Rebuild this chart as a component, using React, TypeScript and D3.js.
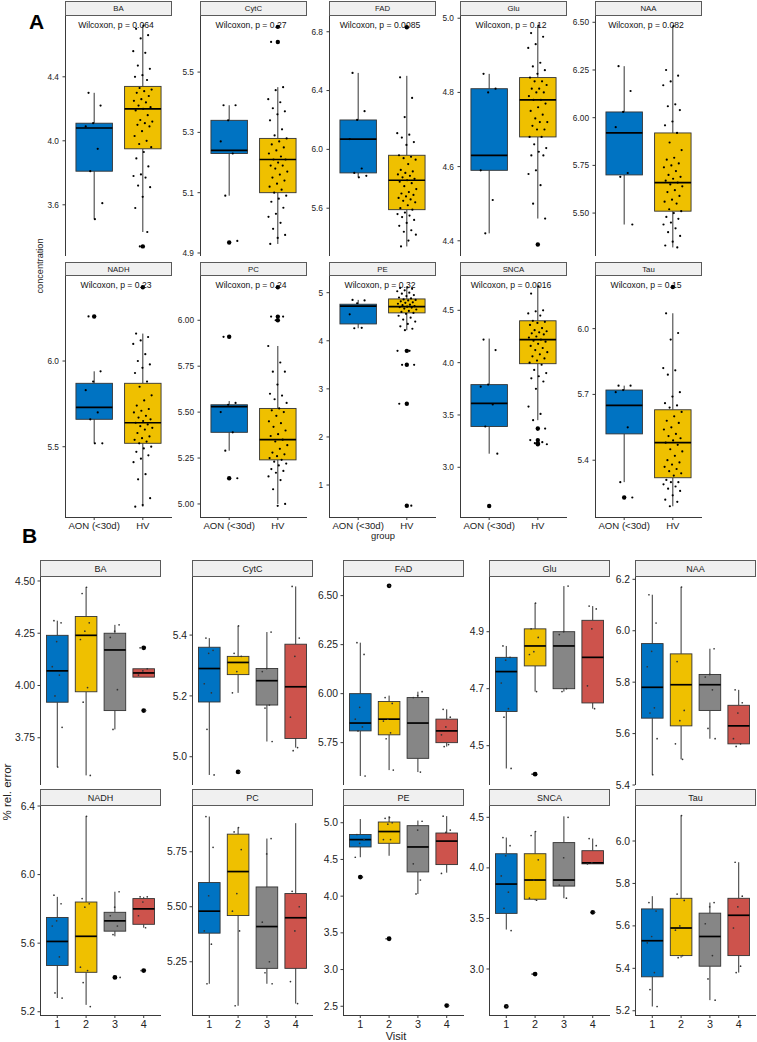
import React from 'react';
import * as d3 from 'd3';

const FONT = "'Liberation Sans', Arial, Helvetica, sans-serif";

// categories
const markers = ['BA', 'CytC', 'FAD', 'Glu', 'NAA', 'NADH', 'PC', 'PE', 'SNCA', 'Tau'];
const groups = ['AON (<30d)', 'HV'];
const visits = ['1', '2', '3', '4'];
const pLabels = ['0.064', '0.27', '0.0085', '0.12', '0.082', '0.23', '0.24', '0.32', '0.0016', '0.15'];
const groupColors = ['#0073C2', '#EFC000'];
const visitColors = ['#0073C2', '#EFC000', '#868686', '#CD534C'];

// ---------- panel A: box stats are [lower whisker, q1, median, q3, upper whisker]
const A_BA_box = [[3.51, 3.81, 4.08, 4.11, 4.30], [3.43, 3.95, 4.20, 4.34, 4.72]];
const A_BA_out = [[], [3.34]];
const A_BA_pts = [
  [4.30, 4.22, 4.11, 4.09, 3.95, 3.81, 3.61, 3.51],
  [4.72, 4.70, 4.66, 4.64, 4.56, 4.55, 4.47, 4.45, 4.41, 4.40, 4.38, 4.33, 4.32, 4.31, 4.30, 4.28, 4.26, 4.25, 4.24, 4.22, 4.21, 4.20, 4.19, 4.16, 4.13, 4.12, 4.11, 4.10, 4.09, 4.06, 4.03, 4.00, 3.98, 3.96, 3.93, 3.89, 3.84, 3.79, 3.78, 3.77, 3.72, 3.71, 3.65, 3.58, 3.43, 3.34],
];
const A_BA_dom = [3.28, 4.78];
const A_BA_ticks = ['3.6', '4.0', '4.4'];

const A_CytC_box = [[5.09, 5.23, 5.24, 5.34, 5.39], [4.93, 5.10, 5.21, 5.28, 5.45]];
const A_CytC_out = [[4.935], [5.60, 5.65]];
const A_CytC_pts = [
  [5.39, 5.39, 5.34, 5.27, 5.23, 5.09, 4.94],
  [5.65, 5.60, 5.45, 5.44, 5.41, 5.40, 5.38, 5.37, 5.36, 5.34, 5.31, 5.29, 5.28, 5.27, 5.26, 5.25, 5.24, 5.23, 5.22, 5.21, 5.21, 5.20, 5.19, 5.19, 5.18, 5.17, 5.16, 5.15, 5.14, 5.13, 5.12, 5.11, 5.10, 5.09, 5.08, 5.07, 5.05, 5.03, 5.02, 5.00, 4.98, 4.96, 4.95, 4.93],
];
const A_CytC_dom = [4.89, 5.686];
const A_CytC_ticks = ['4.9', '5.1', '5.3', '5.5'];

const A_FAD_box = [[5.81, 5.84, 6.07, 6.20, 6.52], [5.34, 5.59, 5.79, 5.96, 6.50]];
const A_FAD_out = [[], [6.83]];
const A_FAD_pts = [
  [6.52, 6.26, 6.20, 6.07, 5.87, 5.84, 5.82, 5.81],
  [6.83, 6.49, 6.35, 6.22, 6.11, 6.10, 6.08, 6.05, 6.03, 5.96, 5.95, 5.94, 5.93, 5.90, 5.86, 5.85, 5.84, 5.83, 5.82, 5.81, 5.80, 5.79, 5.78, 5.77, 5.75, 5.73, 5.71, 5.70, 5.69, 5.68, 5.67, 5.66, 5.65, 5.64, 5.62, 5.60, 5.59, 5.57, 5.56, 5.55, 5.54, 5.52, 5.50, 5.48, 5.45, 5.44, 5.42, 5.38, 5.34],
];
const A_FAD_dom = [5.275, 6.907];
const A_FAD_ticks = ['5.6', '6.0', '6.4', '6.8'];

const A_Glu_box = [[4.42, 4.59, 4.63, 4.81, 4.85], [4.46, 4.68, 4.78, 4.84, 4.98]];
const A_Glu_out = [[], [4.39]];
const A_Glu_pts = [
  [4.85, 4.81, 4.80, 4.59, 4.51, 4.42],
  [4.98, 4.96, 4.95, 4.93, 4.92, 4.88, 4.87, 4.86, 4.85, 4.84, 4.83, 4.83, 4.82, 4.81, 4.81, 4.80, 4.80, 4.79, 4.78, 4.78, 4.77, 4.76, 4.75, 4.74, 4.73, 4.72, 4.72, 4.71, 4.70, 4.70, 4.68, 4.68, 4.66, 4.65, 4.64, 4.63, 4.63, 4.59, 4.58, 4.55, 4.50, 4.46, 4.39],
];
const A_Glu_dom = [4.359, 5.006];
const A_Glu_ticks = ['4.4', '4.6', '4.8', '5.0'];

const A_NAA_box = [[5.44, 5.70, 5.92, 6.03, 6.27], [5.32, 5.51, 5.66, 5.92, 6.48]];
const A_NAA_out = [[], []];
const A_NAA_pts = [
  [6.27, 6.14, 6.03, 5.95, 5.71, 5.69, 5.44],
  [6.48, 6.25, 6.22, 6.19, 6.17, 6.07, 6.06, 6.04, 5.98, 5.96, 5.92, 5.87, 5.83, 5.79, 5.78, 5.76, 5.75, 5.74, 5.72, 5.70, 5.69, 5.68, 5.67, 5.66, 5.65, 5.64, 5.62, 5.61, 5.59, 5.57, 5.56, 5.55, 5.52, 5.51, 5.50, 5.48, 5.47, 5.45, 5.44, 5.42, 5.40, 5.38, 5.35, 5.33, 5.32],
];
const A_NAA_dom = [5.275, 6.533];
const A_NAA_ticks = ['5.50', '5.75', '6.00', '6.25', '6.50'];

const A_NADH_box = [[5.52, 5.66, 5.73, 5.87, 5.94], [5.15, 5.52, 5.64, 5.87, 6.16]];
const A_NADH_out = [[6.26], [6.43]];
const A_NADH_pts = [
  [6.26, 5.94, 5.88, 5.83, 5.70, 5.66, 5.52, 5.52],
  [6.43, 6.16, 6.14, 6.12, 6.10, 6.04, 6.00, 5.98, 5.96, 5.93, 5.88, 5.85, 5.80, 5.77, 5.74, 5.72, 5.71, 5.70, 5.68, 5.67, 5.66, 5.65, 5.64, 5.63, 5.62, 5.61, 5.60, 5.58, 5.56, 5.55, 5.54, 5.53, 5.52, 5.50, 5.49, 5.47, 5.45, 5.43, 5.41, 5.34, 5.31, 5.20, 5.16, 5.15],
];
const A_NADH_dom = [5.09, 6.496];
const A_NADH_ticks = ['5.5', '6.0'];

const A_PC_box = [[5.29, 5.39, 5.53, 5.54, 5.56], [5.00, 5.24, 5.35, 5.52, 5.86]];
const A_PC_out = [[5.91, 5.14], [6.18, 6.02, 6.00]];
const A_PC_pts = [
  [5.91, 5.55, 5.54, 5.50, 5.39, 5.29, 5.14],
  [6.18, 6.02, 6.02, 6.00, 5.86, 5.77, 5.72, 5.72, 5.65, 5.60, 5.59, 5.57, 5.55, 5.52, 5.51, 5.50, 5.48, 5.45, 5.44, 5.42, 5.40, 5.38, 5.37, 5.35, 5.34, 5.32, 5.30, 5.28, 5.27, 5.26, 5.25, 5.24, 5.23, 5.22, 5.21, 5.19, 5.18, 5.17, 5.15, 5.13, 5.08, 5.00, 4.99],
];
const A_PC_dom = [4.929, 6.241];
const A_PC_ticks = ['5.00', '5.25', '5.50', '5.75', '6.00'];

const A_PE_box = [[4.26, 4.35, 4.72, 4.76, 4.85], [4.22, 4.58, 4.71, 4.87, 5.11]];
const A_PE_out = [[], [3.79, 3.50, 2.69, 0.57]];
const A_PE_pts = [
  [4.85, 4.84, 4.78, 4.55, 4.27, 4.26],
  [5.11, 5.10, 5.08, 5.05, 5.03, 5.00, 4.98, 4.95, 4.93, 4.90, 4.88, 4.86, 4.85, 4.84, 4.82, 4.80, 4.79, 4.77, 4.75, 4.74, 4.72, 4.71, 4.70, 4.69, 4.67, 4.65, 4.62, 4.60, 4.58, 4.56, 4.52, 4.48, 4.44, 4.40, 4.35, 4.30, 4.25, 4.22, 3.79, 3.79, 3.50, 3.50, 2.69, 2.69, 0.57],
];
const A_PE_dom = [0.335, 5.347];
const A_PE_ticks = ['1', '2', '3', '4', '5'];

const A_SNCA_box = [[3.13, 3.39, 3.61, 3.79, 4.23], [3.45, 3.99, 4.22, 4.40, 4.73]];
const A_SNCA_out = [[2.63], [3.37, 3.26, 3.23, 3.22]];
const A_SNCA_pts = [
  [4.22, 4.12, 3.79, 3.77, 3.60, 3.39, 3.13, 2.63],
  [4.73, 4.66, 4.50, 4.49, 4.47, 4.45, 4.40, 4.39, 4.38, 4.36, 4.33, 4.31, 4.30, 4.29, 4.28, 4.27, 4.25, 4.24, 4.22, 4.21, 4.20, 4.18, 4.16, 4.14, 4.12, 4.10, 4.08, 4.06, 4.04, 4.02, 4.00, 3.98, 3.93, 3.90, 3.87, 3.85, 3.82, 3.75, 3.58, 3.51, 3.45, 3.37, 3.36, 3.26, 3.24, 3.23, 3.22],
];
const A_SNCA_dom = [2.525, 4.828];
const A_SNCA_ticks = ['3.0', '3.5', '4.0', '4.5'];

const A_Tau_box = [[5.30, 5.52, 5.65, 5.72, 5.74], [5.19, 5.32, 5.48, 5.63, 6.07]];
const A_Tau_out = [[5.23], [6.19]];
const A_Tau_pts = [
  [5.74, 5.74, 5.72, 5.71, 5.55, 5.30, 5.23],
  [6.19, 6.07, 5.98, 5.95, 5.82, 5.81, 5.79, 5.71, 5.69, 5.66, 5.65, 5.64, 5.62, 5.60, 5.58, 5.57, 5.55, 5.54, 5.52, 5.51, 5.50, 5.49, 5.48, 5.47, 5.45, 5.44, 5.42, 5.40, 5.39, 5.38, 5.37, 5.36, 5.35, 5.34, 5.33, 5.31, 5.30, 5.30, 5.29, 5.28, 5.27, 5.26, 5.24, 5.22, 5.21, 5.19],
];
const A_Tau_dom = [5.141, 6.24];
const A_Tau_ticks = ['5.4', '5.7', '6.0'];

// ---------- panel B (visits 1-4)
const B_BA_box = [[3.61, 3.92, 4.07, 4.24, 4.31], [3.57, 3.97, 4.24, 4.33, 4.47], [3.79, 3.88, 4.17, 4.25, 4.29], [4.04, 4.04, 4.06, 4.08, 4.08]];
const B_BA_out = [[], [], [], [4.18, 3.88]];
const B_BA_pts = [[4.31, 4.30, 4.21, 4.09, 4.05, 3.95, 3.80, 3.61], [4.47, 4.44, 4.30, 4.26, 4.22, 3.99, 3.92, 3.57], [4.29, 4.26, 4.23, 3.98, 3.79], [4.18, 4.08, 4.07, 4.05, 3.88]];
const B_BA_dom = [3.524, 4.519];
const B_BA_ticks = ['3.75', '4.00', '4.25', '4.50'];

const B_CytC_box = [[4.94, 5.18, 5.29, 5.36, 5.39], [5.21, 5.27, 5.31, 5.33, 5.43], [5.05, 5.17, 5.25, 5.29, 5.41], [5.03, 5.06, 5.23, 5.37, 5.56]];
const B_CytC_out = [[], [4.95], [], []];
const B_CytC_pts = [[5.39, 5.35, 5.34, 5.24, 5.21, 5.09, 4.94], [5.43, 5.34, 5.33, 5.28, 5.21, 4.95], [5.41, 5.29, 5.28, 5.17, 5.16, 5.05], [5.56, 5.39, 5.33, 5.13, 5.03, 5.02]];
const B_CytC_dom = [4.907, 5.591];
const B_CytC_ticks = ['5.0', '5.2', '5.4'];

const B_FAD_box = [[5.58, 5.81, 5.85, 6.00, 6.26], [5.61, 5.79, 5.87, 5.96, 5.99], [5.60, 5.67, 5.85, 5.98, 6.01], [5.73, 5.75, 5.81, 5.87, 5.92]];
const B_FAD_out = [[], [6.55], [], []];
const B_FAD_pts = [[6.26, 6.20, 5.93, 5.87, 5.83, 5.81, 5.58], [6.55, 5.98, 5.95, 5.87, 5.86, 5.80, 5.77, 5.61], [6.01, 5.99, 5.98, 5.60], [5.92, 5.88, 5.83, 5.79, 5.74, 5.73]];
const B_FAD_dom = [5.534, 6.595];
const B_FAD_ticks = ['5.75', '6.00', '6.25', '6.50'];

const B_Glu_box = [[4.42, 4.62, 4.76, 4.81, 4.85], [4.69, 4.78, 4.85, 4.91, 5.00], [4.69, 4.70, 4.85, 4.90, 5.06], [4.63, 4.65, 4.81, 4.94, 4.99]];
const B_Glu_out = [[], [4.40], [], []];
const B_Glu_pts = [[4.85, 4.81, 4.80, 4.72, 4.63, 4.60, 4.42], [5.00, 4.91, 4.88, 4.83, 4.82, 4.69, 4.40], [5.06, 4.90, 4.89, 4.70, 4.69], [4.99, 4.98, 4.91, 4.71, 4.63]];
const B_Glu_dom = [4.362, 5.092];
const B_Glu_ticks = ['4.5', '4.7', '4.9'];

const B_NAA_box = [[5.44, 5.66, 5.78, 5.95, 6.14], [5.50, 5.63, 5.79, 5.91, 6.17], [5.58, 5.69, 5.79, 5.83, 5.93], [5.56, 5.56, 5.63, 5.71, 5.77]];
const B_NAA_out = [[], [], [], []];
const B_NAA_pts = [[6.14, 6.03, 5.92, 5.86, 5.70, 5.68, 5.58, 5.44], [6.17, 5.88, 5.69, 5.65, 5.56, 5.50], [5.93, 5.83, 5.82, 5.77, 5.62, 5.58], [5.77, 5.72, 5.68, 5.58, 5.56, 5.55]];
const B_NAA_dom = [5.40, 6.209];
const B_NAA_ticks = ['5.4', '5.6', '5.8', '6.0', '6.2'];

const B_NADH_box = [[5.28, 5.47, 5.61, 5.75, 5.87], [5.24, 5.43, 5.64, 5.84, 6.34], [5.64, 5.67, 5.73, 5.78, 5.90], [5.69, 5.71, 5.80, 5.86, 5.87]];
const B_NADH_out = [[], [], [5.40], [5.44]];
const B_NADH_pts = [[5.88, 5.83, 5.73, 5.70, 5.52, 5.31, 5.28], [6.34, 5.86, 5.83, 5.81, 5.46, 5.44, 5.37, 5.23], [5.90, 5.81, 5.76, 5.70, 5.65, 5.40], [5.87, 5.87, 5.84, 5.76, 5.69, 5.44]];
const B_NADH_dom = [5.181, 6.40];
const B_NADH_ticks = ['5.2', '5.6', '6.0', '6.4'];

const B_PC_box = [[5.15, 5.38, 5.48, 5.61, 5.91], [5.05, 5.46, 5.66, 5.83, 5.86], [5.15, 5.22, 5.41, 5.59, 5.81], [5.06, 5.22, 5.45, 5.56, 5.88]];
const B_PC_out = [[], [], [], []];
const B_PC_pts = [[5.91, 5.77, 5.55, 5.39, 5.33, 5.15], [5.86, 5.84, 5.76, 5.56, 5.48, 5.39, 5.05], [5.81, 5.74, 5.43, 5.25, 5.20, 5.15], [5.57, 5.50, 5.39, 5.16, 5.06]];
const B_PC_dom = [5.008, 5.958];
const B_PC_ticks = ['5.25', '5.50', '5.75'];

const B_PE_box = [[4.53, 4.67, 4.77, 4.84, 5.05], [4.55, 4.72, 4.88, 5.01, 5.09], [4.03, 4.33, 4.67, 4.96, 5.03], [4.32, 4.43, 4.75, 4.86, 5.09]];
const B_PE_out = [[4.26], [3.42], [], [2.51]];
const B_PE_pts = [[4.84, 4.77, 4.72, 4.53, 4.26], [5.07, 5.06, 5.00, 4.98, 4.77, 4.77, 3.42], [5.02, 4.90, 4.44, 4.22, 4.03], [5.09, 4.90, 4.87, 4.31, 2.51]];
const B_PE_dom = [2.381, 5.228];
const B_PE_ticks = ['2.5', '3.0', '3.5', '4.0', '4.5', '5.0'];

const B_SNCA_box = [[3.39, 3.55, 3.84, 4.14, 4.30], [3.68, 3.69, 3.88, 4.14, 4.36], [3.70, 3.82, 3.88, 4.25, 4.51], [4.04, 4.04, 4.05, 4.17, 4.29]];
const B_SNCA_out = [[2.63], [2.95], [], [3.56]];
const B_SNCA_pts = [[4.30, 4.22, 4.12, 3.92, 3.76, 3.60, 3.38, 2.63], [4.36, 4.32, 4.08, 3.88, 3.70, 3.68, 2.95], [4.50, 4.10, 3.83, 3.70], [4.29, 4.22, 4.05, 4.04, 3.56]];
const B_SNCA_dom = [2.545, 4.612];
const B_SNCA_ticks = ['3.0', '3.5', '4.0', '4.5'];

const B_Tau_box = [[5.22, 5.36, 5.53, 5.68, 5.74], [5.45, 5.46, 5.59, 5.73, 6.12], [5.25, 5.41, 5.55, 5.66, 5.71], [5.38, 5.46, 5.65, 5.73, 5.90]];
const B_Tau_out = [[], [], [], []];
const B_Tau_pts = [[5.71, 5.67, 5.55, 5.52, 5.38, 5.30, 5.22], [6.12, 5.75, 5.72, 5.60, 5.58, 5.46, 5.45], [5.71, 5.69, 5.61, 5.46, 5.35, 5.25], [5.90, 5.74, 5.69, 5.59, 5.41, 5.38]];
const B_Tau_dom = [5.18, 6.165];
const B_Tau_ticks = ['5.2', '5.4', '5.6', '5.8', '6.0'];

type Panel = { box: number[][]; out: number[][]; pts: number[][]; dom: number[]; ticks: string[] };

const panelsA: Panel[] = [
  { box: A_BA_box, out: A_BA_out, pts: A_BA_pts, dom: A_BA_dom, ticks: A_BA_ticks },
  { box: A_CytC_box, out: A_CytC_out, pts: A_CytC_pts, dom: A_CytC_dom, ticks: A_CytC_ticks },
  { box: A_FAD_box, out: A_FAD_out, pts: A_FAD_pts, dom: A_FAD_dom, ticks: A_FAD_ticks },
  { box: A_Glu_box, out: A_Glu_out, pts: A_Glu_pts, dom: A_Glu_dom, ticks: A_Glu_ticks },
  { box: A_NAA_box, out: A_NAA_out, pts: A_NAA_pts, dom: A_NAA_dom, ticks: A_NAA_ticks },
  { box: A_NADH_box, out: A_NADH_out, pts: A_NADH_pts, dom: A_NADH_dom, ticks: A_NADH_ticks },
  { box: A_PC_box, out: A_PC_out, pts: A_PC_pts, dom: A_PC_dom, ticks: A_PC_ticks },
  { box: A_PE_box, out: A_PE_out, pts: A_PE_pts, dom: A_PE_dom, ticks: A_PE_ticks },
  { box: A_SNCA_box, out: A_SNCA_out, pts: A_SNCA_pts, dom: A_SNCA_dom, ticks: A_SNCA_ticks },
  { box: A_Tau_box, out: A_Tau_out, pts: A_Tau_pts, dom: A_Tau_dom, ticks: A_Tau_ticks },
];

const panelsB: Panel[] = [
  { box: B_BA_box, out: B_BA_out, pts: B_BA_pts, dom: B_BA_dom, ticks: B_BA_ticks },
  { box: B_CytC_box, out: B_CytC_out, pts: B_CytC_pts, dom: B_CytC_dom, ticks: B_CytC_ticks },
  { box: B_FAD_box, out: B_FAD_out, pts: B_FAD_pts, dom: B_FAD_dom, ticks: B_FAD_ticks },
  { box: B_Glu_box, out: B_Glu_out, pts: B_Glu_pts, dom: B_Glu_dom, ticks: B_Glu_ticks },
  { box: B_NAA_box, out: B_NAA_out, pts: B_NAA_pts, dom: B_NAA_dom, ticks: B_NAA_ticks },
  { box: B_NADH_box, out: B_NADH_out, pts: B_NADH_pts, dom: B_NADH_dom, ticks: B_NADH_ticks },
  { box: B_PC_box, out: B_PC_out, pts: B_PC_pts, dom: B_PC_dom, ticks: B_PC_ticks },
  { box: B_PE_box, out: B_PE_out, pts: B_PE_pts, dom: B_PE_dom, ticks: B_PE_ticks },
  { box: B_SNCA_box, out: B_SNCA_out, pts: B_SNCA_pts, dom: B_SNCA_dom, ticks: B_SNCA_ticks },
  { box: B_Tau_box, out: B_Tau_out, pts: B_Tau_pts, dom: B_Tau_dom, ticks: B_Tau_ticks },
];

// layout
const A_COLS = [65, 200, 329, 460, 595];
const A_W = 107;
const A_ROWS = [{ strip: 1, top: 16, bot: 256 }, { strip: 262, top: 276, bot: 517 }];
const B_COLS = [40, 192, 343, 489, 635];
const B_W = 121;
const B_ROWS = [{ strip: 560, top: 577, bot: 785 }, { strip: 789, top: 806, bot: 1015 }];

// deterministic jitter in [-0.5, 0.5)
const jit = (i: number) => ((i * 0.6180339887 + 0.21) % 1) - 0.5;

type Style = {
  tickFont: number; stripFont: number; xFont: number; ptR: number; outR: number;
  tickGap: number; ptFill: string;
};

const styleA: Style = { tickFont: 8.3, stripFont: 7.8, xFont: 9.6, ptR: 1.1, outR: 2.2, tickGap: 6, ptFill: '#000' };
const styleB: Style = { tickFont: 10.3, stripFont: 9, xFont: 10.8, ptR: 0.85, outR: 2.4, tickGap: 5, ptFill: '#333' };

function Facet({ name, p, cats, colors, left, width, row, showX, pLabel, st }: {
  name: string; p: Panel; cats: string[]; colors: string[]; left: number; width: number;
  row: { strip: number; top: number; bot: number }; showX: boolean; pLabel?: string; st: Style;
}) {
  const x = d3.scalePoint<string>().domain(cats).range([left, left + width]).padding(0.6);
  const y = d3.scaleLinear().domain(p.dom).range([row.bot, row.top]);
  const step = x.step();
  const bw = step * 0.75;
  const axis = '#3a3a3a';

  return (
    <g>
      {/* strip */}
      <rect x={left + 0.5} y={row.strip + 0.5} width={width - 1} height={row.top - row.strip - 1}
        fill="#F0F0F0" stroke="#5a5a5a" strokeWidth={1} />
      <text x={left + width / 2} y={(row.strip + row.top) / 2} dy="0.35em" textAnchor="middle"
        fontSize={st.stripFont} fill="#1a1a1a">{name}</text>

      {/* y axis */}
      <line x1={left + 0.5} x2={left + 0.5} y1={row.top} y2={row.bot} stroke={axis} strokeWidth={1} />
      {p.ticks.map(t => (
        <g key={t}>
          <line x1={left - 2.5} x2={left} y1={y(+t)} y2={y(+t)} stroke={axis} strokeWidth={1} />
          <text x={left - st.tickGap} y={y(+t)} dy="0.35em" textAnchor="end" fontSize={st.tickFont} fill="#222">{t}</text>
        </g>
      ))}

      {/* x axis */}
      {showX && (
        <g>
          <line x1={left} x2={left + width} y1={row.bot + 0.5} y2={row.bot + 0.5} stroke={axis} strokeWidth={1} />
          {cats.map(c => (
            <g key={c}>
              <line x1={x(c)} x2={x(c)} y1={row.bot} y2={row.bot + 3} stroke={axis} strokeWidth={1} />
              <text x={x(c)} y={row.bot + 4} dy="0.85em" textAnchor="middle" fontSize={st.xFont} fill="#222">{c}</text>
            </g>
          ))}
        </g>
      )}

      {/* boxes */}
      {cats.map((c, gi) => {
        const [lo, q1, med, q3, hi] = p.box[gi];
        const cx = x(c) as number;
        return (
          <g key={c}>
            <line x1={cx} x2={cx} y1={y(hi)} y2={y(q3)} stroke="#333" strokeWidth={1} />
            <line x1={cx} x2={cx} y1={y(q1)} y2={y(lo)} stroke="#333" strokeWidth={1} />
            <rect x={cx - bw / 2} y={y(q3)} width={bw} height={Math.max(0.5, y(q1) - y(q3))}
              fill={colors[gi]} stroke="#333" strokeWidth={0.9} />
            <line x1={cx - bw / 2} x2={cx + bw / 2} y1={y(med)} y2={y(med)} stroke="#000" strokeWidth={1.7} />
            {p.out[gi].map((v, k) => (
              <circle key={k} cx={cx} cy={y(v)} r={st.outR} fill="#000" />
            ))}
          </g>
        );
      })}

      {/* jittered points */}
      {cats.map((c, gi) => {
        const cx = x(c) as number;
        return p.pts[gi].map((v, i) => (
          <circle key={c + i} cx={cx + jit(i + gi * 7) * 0.4 * step} cy={y(v)} r={st.ptR} fill={st.ptFill} />
        ));
      })}

      {pLabel && (
        <text x={left + width / 2 - 2.5} y={row.top + 11.5} textAnchor="middle" fontSize={8.6} fill="#111">
          Wilcoxon, p = {pLabel}
        </text>
      )}
    </g>
  );
}

export default function App() {
  return (
    <div style={{ position: 'absolute', left: 0, top: 0, background: '#fff' }}>
      <svg width={757} height={1042} style={{ display: 'block', fontFamily: FONT }}>
        <rect width={757} height={1042} fill="#fff" />

        {/* Panel A */}
        <text x={29} y={29} fontSize={21} fontWeight="bold" fill="#000">A</text>
        {panelsA.map((p, i) => (
          <Facet key={'A' + i} name={markers[i]} p={p} cats={groups} colors={groupColors}
            left={A_COLS[i % 5]} width={A_W} row={A_ROWS[Math.floor(i / 5)]}
            showX={i >= 5} pLabel={pLabels[i]} st={styleA} />
        ))}
        <text transform="translate(40,266) rotate(-90)" textAnchor="middle" dy="0.35em" fontSize={9.2} fill="#222">concentration</text>
        <text x={383} y={539} textAnchor="middle" fontSize={9.4} fill="#222">group</text>

        {/* Panel B */}
        <text x={22} y={543} fontSize={21} fontWeight="bold" fill="#000">B</text>
        {panelsB.map((p, i) => (
          <Facet key={'B' + i} name={markers[i]} p={p} cats={visits} colors={visitColors}
            left={B_COLS[i % 5]} width={B_W} row={B_ROWS[Math.floor(i / 5)]}
            showX={i >= 5} st={styleB} />
        ))}
        <text transform="translate(7,792) rotate(-90)" textAnchor="middle" dy="0.35em" fontSize={11.5} fill="#222">% rel. error</text>
        <text x={396} y={1040} textAnchor="middle" fontSize={11} fill="#222">Visit</text>
      </svg>
    </div>
  );
}
